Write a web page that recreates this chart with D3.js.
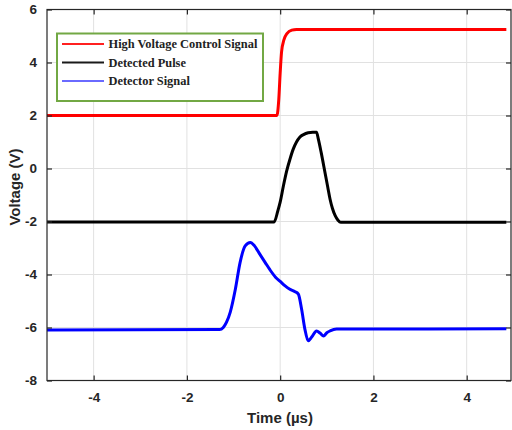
<!DOCTYPE html>
<html>
<head>
<meta charset="utf-8">
<script src="https://cdn.jsdelivr.net/npm/d3@7"></script>
<style>
    body { margin: 0; background: #fff; }
    svg { display: block; }
</style>
</head>
<body>
<div id="chart"></div>
<script>
// values (time in us, voltage in V)
var xTicks = [-4, -2, 0, 2, 4];
var yTicks = [-8, -6, -4, -2, 0, 2, 4, 6];

var seriesNames = ["High Voltage Control Signal", "Detected Pulse", "Detector Signal"];

var controlTime = [-5, -0.07, -0.03, 0.0, 0.03, 0.08, 0.15, 0.25, 0.35, 4.85];
var controlVolt = [2.0, 2.0, 2.6, 3.6, 4.4, 4.85, 5.1, 5.22, 5.25, 5.25];

var pulseTime = [-5, -0.13, -0.05, 0.0, 0.07, 0.14, 0.21, 0.28, 0.35, 0.42, 0.5, 0.6, 0.7, 0.78,
    0.82, 0.88, 0.96, 1.02, 1.07, 1.12, 1.18, 1.24, 1.3, 4.85];
var pulseVolt = [-2.02, -2.02, -1.6, -1.27, -0.65, -0.09, 0.35, 0.73, 1.0, 1.18, 1.28, 1.35, 1.37, 1.37,
    1.1, 0.6, -0.14, -0.7, -1.16, -1.5, -1.78, -1.95, -2.03, -2.03];

var detectorTime = [-5, -1.3, -1.22, -1.15, -1.07, -0.96, -0.86, -0.75, -0.64, -0.55, -0.43, -0.32,
    -0.22, -0.1, 0, 0.1, 0.2, 0.32, 0.39, 0.46, 0.53, 0.6, 0.68, 0.78, 0.86, 0.93, 1.0, 1.07, 1.21, 4.85];
var detectorVolt = [-6.09, -6.08, -6.0, -5.8, -5.42, -4.55, -3.55, -2.92, -2.79, -2.92, -3.25, -3.55,
    -3.82, -4.1, -4.26, -4.42, -4.55, -4.65, -4.74, -5.31, -6.06, -6.5, -6.35, -6.13, -6.22, -6.32, -6.2,
    -6.13, -6.06, -6.05];

var lineColors = ["#ff0000", "#000000", "#0000ff"];
var legendColors = ["#ff2020", "#1a1a1a", "#6a6aff"];

var W = 512, H = 430;
var margin = { top: 9.5, right: 1, bottom: 49.5, left: 47 };
var width = W - margin.left - margin.right;
var height = H - margin.top - margin.bottom;

var svg = d3.select("#chart").append("svg")
    .attr("width", W)
    .attr("height", H);

var g = svg.append("g")
    .attr("transform", "translate(" + margin.left + "," + margin.top + ")");

var x = d3.scaleLinear().domain([-5, 4.95]).range([0, width]);
var y = d3.scaleLinear().domain([-8, 6]).range([height, 0]);

// Grid
g.append("g").selectAll("line").data(xTicks).enter().append("line")
    .attr("x1", function (d) { return x(d); })
    .attr("x2", function (d) { return x(d); })
    .attr("y1", 0).attr("y2", height)
    .attr("stroke", "#e1e1e1").attr("stroke-width", 1);

g.append("g").selectAll("line").data(yTicks).enter().append("line")
    .attr("y1", function (d) { return y(d); })
    .attr("y2", function (d) { return y(d); })
    .attr("x1", 0).attr("x2", width)
    .attr("stroke", "#e1e1e1").attr("stroke-width", 1);

// Traces
var series = [
    { t: controlTime, v: controlVolt },
    { t: pulseTime, v: pulseVolt },
    { t: detectorTime, v: detectorVolt }
];

var line = d3.line()
    .x(function (d) { return x(d[0]); })
    .y(function (d) { return y(d[1]); })
    .curve(d3.curveMonotoneX);

series.forEach(function (s, i) {
    var pts = s.t.map(function (t, j) { return [t, s.v[j]]; });
    g.append("path")
        .datum(pts)
        .attr("d", line)
        .attr("fill", "none")
        .attr("stroke", lineColors[i])
        .attr("stroke-width", 3)
        .attr("stroke-linejoin", "round");
});

// Axes (box with inward ticks)
var axisColor = "#262626";
var font = "'Liberation Sans', Arial, sans-serif";
var plainFmt = function (d) { return String(d); };

g.append("rect")
    .attr("x", 0).attr("y", 0)
    .attr("width", width).attr("height", height)
    .attr("fill", "none").attr("stroke", axisColor).attr("stroke-width", 1.2);

var xAxis = g.append("g")
    .attr("transform", "translate(0," + height + ")")
    .call(d3.axisBottom(x).tickValues(xTicks).tickFormat(plainFmt)
        .tickSizeInner(-5).tickSizeOuter(0).tickPadding(12));

var yAxis = g.append("g")
    .call(d3.axisLeft(y).tickValues(yTicks).tickFormat(plainFmt)
        .tickSizeInner(-5).tickSizeOuter(0).tickPadding(10));

var xTop = g.append("g")
    .call(d3.axisTop(x).tickValues(xTicks).tickSizeInner(-5).tickSizeOuter(0).tickFormat(""));

var yRight = g.append("g")
    .attr("transform", "translate(" + width + ",0)")
    .call(d3.axisRight(y).tickValues(yTicks).tickSizeInner(-5).tickSizeOuter(0).tickFormat(""));

[xAxis, yAxis, xTop, yRight].forEach(function (a) {
    a.select(".domain").remove();
    a.selectAll(".tick line").attr("stroke", axisColor).attr("stroke-width", 1.2);
    a.selectAll(".tick text")
        .attr("fill", "#262626")
        .attr("font-family", font)
        .attr("font-weight", "bold")
        .attr("font-size", "13.5px");
});

// Axis titles
svg.append("text")
    .attr("x", 280)
    .attr("y", 423)
    .attr("text-anchor", "middle")
    .attr("font-family", font)
    .attr("font-weight", "bold")
    .attr("font-size", "15px")
    .attr("fill", "#262626")
    .text("Time (\u00b5s)");

svg.append("text")
    .attr("transform", "translate(20,187) rotate(-90)")
    .attr("text-anchor", "middle")
    .attr("font-family", font)
    .attr("font-weight", "bold")
    .attr("font-size", "15px")
    .attr("fill", "#262626")
    .text("Voltage (V)");

// Legend
var legend = svg.append("g").attr("transform", "translate(57,33.5)");

legend.append("rect")
    .attr("width", 206).attr("height", 67.5)
    .attr("fill", "#fff")
    .attr("stroke", "#72a844").attr("stroke-width", 2);

var rows = legend.selectAll("g.row").data(seriesNames).enter().append("g")
    .attr("class", "row")
    .attr("transform", function (d, i) { return "translate(0," + (10.5 + i * 18.5) + ")"; });

rows.append("line")
    .attr("x1", 5).attr("x2", 47)
    .attr("stroke", function (d, i) { return legendColors[i]; })
    .attr("stroke-width", 2);

rows.append("text")
    .attr("x", 51.5)
    .attr("y", 4)
    .attr("font-family", "'Liberation Serif', 'Times New Roman', serif")
    .attr("font-weight", "bold")
    .attr("font-size", "12.4px")
    .attr("fill", "#222")
    .text(function (d) { return d; });
</script>
</body>
</html>
